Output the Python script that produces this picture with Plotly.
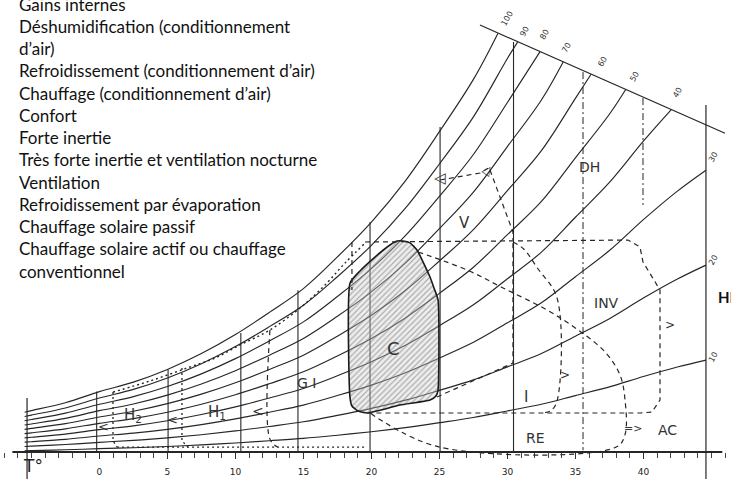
import plotly.graph_objects as go

# ---------------- data ----------------
legend_lines = [
    "Gains internes",
    "Déshumidification (conditionnement",
    "d’air)",
    "Refroidissement (conditionnement d’air)",
    "Chauffage (conditionnement d’air)",
    "Confort",
    "Forte inertie",
    "Très forte inertie et ventilation nocturne",
    "Ventilation",
    "Refroidissement par évaporation",
    "Chauffage solaire passif",
    "Chauffage solaire actif ou chauffage",
    "conventionnel",
]

temp_ticks = [0, 5, 10, 15, 20, 25, 30, 35, 40]

# temperature grid (°C) for the humidity curves
t_grid = [-5.5, -5, -2.5, 0, 2.5, 5, 7.5, 10, 12.5, 15, 17.5, 20, 22.5,
          25, 27.5, 30, 32.5, 35, 37.5, 40, 42.5]

# humidity (g/kg) of each relative-humidity curve, plus its end point
w_rh100 = [2.7, 2.8, 3.3, 4.0, 4.6, 5.4, 6.4, 7.6, 9.0, 10.5, 12.5, 14.7, 17.3, 20.4, 23.7]
end_rh100 = (29.3, 26.6)
w_rh90 = [2.43, 2.52, 2.97, 3.6, 4.14, 4.86, 5.76, 6.84, 8.1, 9.45, 11.25, 13.23, 15.57, 18.36, 21.33, 25.02]
end_rh90 = (30.75, 26.05)
w_rh80 = [2.16, 2.24, 2.64, 3.2, 3.68, 4.32, 5.12, 6.08, 7.2, 8.4, 10.0, 11.76, 13.84, 16.32, 18.96, 22.24]
end_rh80 = (32.4, 25.45)
w_rh70 = [1.89, 1.96, 2.31, 2.8, 3.22, 3.78, 4.48, 5.32, 6.3, 7.35, 8.75, 10.29, 12.11, 14.28, 16.59, 19.46, 22.4]
end_rh70 = (34.1, 24.8)
w_rh60 = [1.62, 1.68, 1.98, 2.4, 2.76, 3.24, 3.84, 4.56, 5.4, 6.3, 7.5, 8.82, 10.38, 12.24, 14.22, 16.68, 19.2, 22.5]
end_rh60 = (36.15, 24.02)
w_rh50 = [1.35, 1.4, 1.65, 2.0, 2.3, 2.7, 3.2, 3.8, 4.5, 5.25, 6.25, 7.35, 8.65, 10.2, 11.85, 13.9, 16.0, 18.75, 21.5]
end_rh50 = (38.7, 23.06)
w_rh40 = [1.08, 1.12, 1.32, 1.6, 1.84, 2.16, 2.56, 3.04, 3.6, 4.2, 5.0, 5.88, 6.92, 8.16, 9.48, 11.12, 12.8, 15.0, 17.2, 19.8]
end_rh40 = (42.05, 21.79)
w_rh30 = [0.81, 0.84, 0.99, 1.2, 1.38, 1.62, 1.92, 2.28, 2.7, 3.15, 3.75, 4.41, 5.19, 6.12, 7.11, 8.34, 9.6, 11.25, 12.9, 14.85, 16.65]
end_rh30 = (44.6, 17.97)
w_rh20 = [0.54, 0.56, 0.66, 0.8, 0.92, 1.08, 1.28, 1.52, 1.8, 2.1, 2.5, 2.94, 3.46, 4.08, 4.74, 5.56, 6.4, 7.5, 8.6, 9.9, 11.1]
end_rh20 = (44.6, 11.98)
w_rh10 = [0.27, 0.28, 0.33, 0.4, 0.46, 0.54, 0.64, 0.76, 0.9, 1.05, 1.25, 1.47, 1.73, 2.04, 2.37, 2.78, 3.2, 3.75, 4.3, 4.95, 5.55]
end_rh10 = (44.6, 5.99)

rh_curves = [w_rh100, w_rh90, w_rh80, w_rh70, w_rh60, w_rh50, w_rh40, w_rh30, w_rh20, w_rh10]
rh_ends = [end_rh100, end_rh90, end_rh80, end_rh70, end_rh60, end_rh50, end_rh40, end_rh30, end_rh20, end_rh10]

# RH labels along the top cut line and on the right border
rh_label_text = ["100", "90", "80", "70", "60", "50", "40", "30", "20", "10"]
rh_label_t = [29.97, 31.29, 32.76, 34.38, 37.03, 39.38, 42.54, 45.11, 45.11, 45.11]
rh_label_w = [27.57, 26.69, 26.50, 25.68, 24.80, 23.85, 22.84, 18.80, 12.30, 6.18]

# solid vertical temperature lines: position and top (humidity)
grid_t = [-0.2, 5.05, 10.4, 14.6, 19.9, 25.05, 30.45]
grid_top = [4.0, 5.4, 7.7, 10.4, 14.7, 20.7, 26.06]
axis_w = 0.19           # humidity level where the temperature axis is drawn

# borders
left_border_t, left_border_w = [-5.32, -5.32], [3.6, -1.51]
right_border_t, right_border_w = [44.6, 44.6], [22.08, -1.51]
top_line_t, top_line_w = [27.98, 46.0], [27.13, 20.3]
axis_line_t = [-6.4, 45.8]

# comfort zone (hatched)
comfort_t = [18.43, 18.43, 18.57, 19.01, 19.68, 22.10, 24.31, 24.75, 24.90, 24.90, 24.60,
             24.31, 23.35, 22.84, 22.32, 21.88, 21.37, 20.26, 19.16, 18.43]
comfort_w = [10.85, 3.60, 3.09, 2.78, 2.65, 3.15, 3.47, 3.72, 4.10, 9.78, 10.54,
             11.23, 12.93, 13.38, 13.50, 13.50, 13.25, 12.49, 11.61, 10.85]

# zone outlines
heat_top_t = [1.0, 3.72, 6.44, 8.5, 10.34, 12.54, 14.75, 16.59, 18.06, 19.53]
heat_top_w = [3.97, 4.67, 5.49, 6.12, 6.94, 7.89, 9.27, 10.73, 12.11, 13.37]
inv_t = [19.53, 38.87, 39.75, 39.97, 41.22, 41.22, 40.63, 39.75, 19.68]
inv_w = [13.44, 13.56, 13.12, 12.18, 10.41, 3.47, 2.71, 2.65, 2.65]
i_left_t, i_left_w = [24.82, 30.41, 30.41], [3.66, 5.80, 13.44]
i_right_t = [30.41, 31.2, 32.2, 33.65, 33.65, 33.2, 32.6]
i_right_w = [13.44, 13.0, 11.8, 9.91, 3.4, 2.8, 2.65]
v_arc_t = [23.43, 27.04, 29.68, 32.91, 35.19, 37.18, 38.28, 38.65, 38.65, 38.0, 25.0, 19.9]
v_arc_w = [12.81, 11.67, 10.54, 9.15, 7.89, 6.50, 5.05, 3.47, 1.3, 0.5, 0.5, 2.65]
v_top_t, v_top_w = [25.04, 26.29, 27.99, 28.72], [17.35, 17.54, 17.79, 18.17]
v_side_t, v_side_w = [28.72, 30.41, 30.41], [17.98, 14.07, 13.56]
dh35_t, dh35_w = [35.56, 35.56], [24.16, 0.3]
dh40_t, dh40_w = [39.97, 39.97], [22.52, 15.77]
h2_t, h2_w = [1.0, 1.0, 1.3], [3.97, 0.9, 0.5]
h1_t, h1_w = [6.07, 6.07, 6.5], [5.49, 0.9, 0.5]
gi_t, gi_w = [12.54, 12.54, 13.1], [7.89, 1.0, 0.5]
heat_bottom_t, heat_bottom_w = [1.3, 19.5], [0.5, 0.5]
c_left_t, c_left_w = [18.57, 18.57], [13.44, 10.41]

# zone labels
zone_text = ["DH", "V", "INV", "C", "I", "RE", "AC", "=&gt;", "G I", "H<sub>2</sub>", "H<sub>1</sub>",
             "&lt;", "&lt;", "&lt;", "&gt;", "&gt;", "◁", "▷"]
zone_t = [36.03, 26.88, 37.32, 21.59, 31.37, 32.03, 41.74, 39.23, 15.26, 2.47, 8.65,
          0.27, 5.34, 11.66, 41.96, 34.24, 25.04, 28.5]
zone_w = [18.17, 14.64, 9.59, 6.75, 3.66, 1.07, 1.58, 1.70, 4.54, 2.52, 2.71,
          1.77, 2.21, 2.78, 8.20, 5.05, 17.48, 18.0]
zone_size = [14, 15, 14, 18, 15, 14, 14, 11, 14, 15, 15, 13, 13, 14, 12, 12, 15, 12]
zone_angle = [0, 0, 0, 0, 0, 0, 0, 0, 0, 0, 0, 0, 0, 0, 0, 0, 0, -55]

# ---------------- figure ----------------
INK = "#262626"
fig = go.Figure()


def add_line(xs, ys, axis="y2", dash="solid", width=1.1, shape="linear", color=INK):
    fig.add_trace(go.Scatter(x=xs, y=ys, mode="lines", yaxis=axis, xaxis="x",
                             line=dict(color=color, width=width, dash=dash, shape=shape),
                             hoverinfo="skip", showlegend=False))


# vertical temperature lines (clipped at the axis)
for t, top in zip(grid_t, grid_top):
    add_line([t, t], [top, axis_w - 0.5], axis="y", width=1.1)

# relative humidity curves (clipped at the axis)
for w_list, end in zip(rh_curves, rh_ends):
    xs = t_grid[:len(w_list)] + [end[0]]
    ys = w_list + [end[1]]
    add_line(xs, ys, axis="y", width=1.15, shape="spline")

# borders and axis
add_line(left_border_t, left_border_w, width=1.2)
add_line(right_border_t, right_border_w, width=1.2)
add_line(top_line_t, top_line_w, width=1.2)
add_line(axis_line_t, [axis_w, axis_w], width=2.0)

# comfort zone
fig.add_trace(go.Scatter(x=comfort_t, y=comfort_w, mode="lines", yaxis="y2", fill="toself",
                         fillcolor="rgba(170,170,170,0.3)",
                         fillpattern=dict(shape="/", size=4, solidity=0.3, fgcolor="#6a6a6a",
                                          bgcolor="rgba(205,205,205,0.35)"),
                         line=dict(color="#1a1a1a", width=1.6, shape="spline", smoothing=0.5),
                         hoverinfo="skip", showlegend=False))

DASH = "5px,4px"
DOT = "2px,3px"
DASHDOT = "7px,3px,2px,3px"
add_line(heat_top_t, heat_top_w, dash=DOT, width=1.4, shape="spline")
add_line(inv_t, inv_w, dash=DASH, width=1.2)
add_line(i_left_t, i_left_w, dash=DASH, width=1.2)
add_line(i_right_t, i_right_w, dash=DASH, width=1.2, shape="spline")
add_line(v_arc_t, v_arc_w, dash=DASH, width=1.2, shape="spline")
add_line(v_top_t, v_top_w, dash=DASH, width=1.2)
add_line(v_side_t, v_side_w, dash=DASH, width=1.2)
add_line(dh35_t, dh35_w, dash=DASHDOT, width=1.0)
add_line(dh40_t, dh40_w, dash=DASHDOT, width=1.0)
add_line(h2_t, h2_w, dash=DOT, width=1.3)
add_line(h1_t, h1_w, dash=DOT, width=1.3)
add_line(gi_t, gi_w, dash=DASH, width=1.2, shape="spline")
add_line(heat_bottom_t, heat_bottom_w, dash=DOT, width=1.3)
add_line(c_left_t, c_left_w, dash=DASH, width=1.2)

annotations = []
# legend text block
for i, txt in enumerate(legend_lines):
    yc = 4 + 22.25 * i
    annotations.append(dict(text=txt, xref="paper", yref="paper", x=17 / 731, y=1 - yc / 479,
                            xanchor="left", yanchor="middle", showarrow=False,
                            font=dict(family="Lato, Open Sans, sans-serif", size=17, color="#111111")))

# RH labels
for txt, t, w in zip(rh_label_text, rh_label_t, rh_label_w):
    annotations.append(dict(text=txt, x=t, y=w, xref="x", yref="y2", showarrow=False,
                            textangle=-60, font=dict(family="DejaVu Sans", size=8, color="#333333")))

# zone labels
for txt, t, w, s, a in zip(zone_text, zone_t, zone_w, zone_size, zone_angle):
    annotations.append(dict(text=txt, x=t, y=w, xref="x", yref="y2", showarrow=False, textangle=a,
                            font=dict(family="DejaVu Sans", size=s, color="#333333")))

annotations.append(dict(text="T°", x=-4.88, y=-0.69, xref="x", yref="y2", showarrow=False,
                        font=dict(family="DejaVu Sans", size=17, color="#222222")))
annotations.append(dict(text="<b>HR</b>", x=45.35, y=9.97, xref="x", yref="y2", showarrow=False,
                        xanchor="left", font=dict(family="Lato, sans-serif", size=15, color="#111111")))

fig.update_layout(
    width=731, height=479,
    margin=dict(l=0, r=0, t=0, b=0, pad=0),
    paper_bgcolor="white", plot_bgcolor="rgba(0,0,0,0)",
    showlegend=False,
    annotations=annotations,
    xaxis=dict(range=[-7.309, 46.441], domain=[0, 1], anchor="y",
               showgrid=False, zeroline=False, showline=False,
               tickmode="array", tickvals=temp_ticks, ticktext=[str(v) for v in temp_ticks],
               ticks="outside", ticklen=6, tickwidth=1, tickcolor="#333333",
               ticklabelstandoff=5,
               tickfont=dict(family="DejaVu Sans", size=9, color="#222222"),
               minor=dict(ticks="outside", dtick=1, ticklen=5, tickwidth=1, tickcolor="#444444",
                          showgrid=False),
               fixedrange=True),
    yaxis=dict(domain=[27 / 479, 1], range=[0.19, 28.707], visible=False, fixedrange=True),
    yaxis2=dict(domain=[0, 1], range=[-1.514, 28.707], anchor="x", visible=False, fixedrange=True),
)

fig.write_html("out.html", config={"displayModeBar": False},
               post_script="document.body.style.margin='0';")
